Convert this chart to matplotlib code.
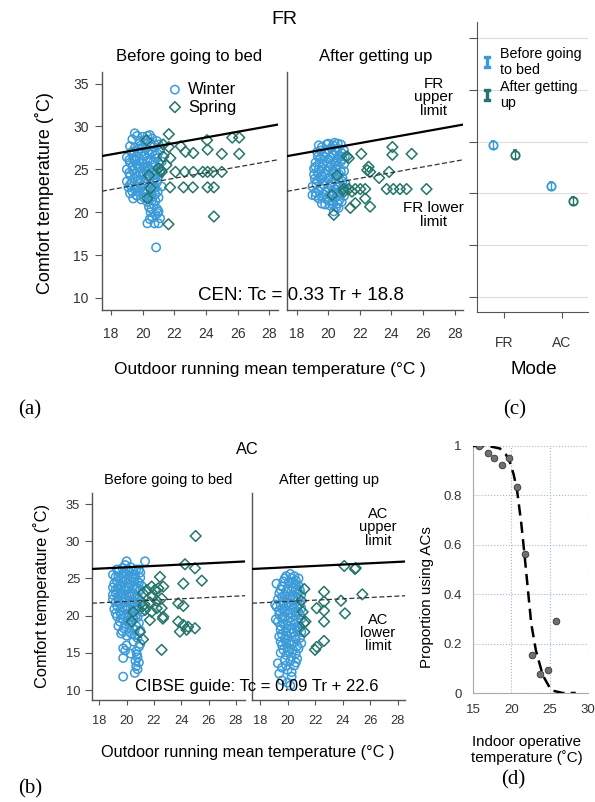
import numpy as np
import matplotlib
matplotlib.use("Agg")
import matplotlib.pyplot as plt

plt.rcParams['font.family'] = ['Liberation Sans', 'DejaVu Sans']

# ---- data ----
# (a) FR, before going to bed
winterFrBedX = [19.5, 20.0, 20.3, 20.6, 20.9, 19.8, 20.5, 21.0, 19.2, 19.5, 19.9, 20.2, 20.7, 21.1, 19.3, 19.7, 20.0,
                20.4, 20.8, 19.0, 19.4, 19.8, 20.1, 20.5, 20.9, 21.2, 19.2, 19.6, 20.0, 20.3, 20.7, 21.0, 19.0, 19.4,
                19.8, 20.2, 20.6, 21.1, 19.2, 19.6, 20.0, 20.4, 20.8, 19.0, 19.3, 19.7, 20.1, 20.5, 20.9, 21.2, 19.1,
                19.5, 19.9, 20.3, 20.7, 19.2, 19.6, 20.0, 20.4, 20.8, 19.4, 19.9, 20.3, 20.6, 21.0, 20.4, 20.7, 20.9,
                20.5, 20.8, 21.0, 20.6, 20.3, 20.75, 21.0, 20.85,
                19.35, 19.65, 20.15, 20.45, 20.75, 19.45, 19.75, 20.05, 20.35, 20.6, 20.95, 19.15, 19.55, 19.95, 20.3,
                20.65, 21.05, 19.35, 19.7, 20.1, 20.45, 20.85, 19.15, 19.5, 19.85, 20.25, 20.65, 21.0, 19.45, 19.85,
                20.25, 20.7, 19.2, 19.6, 20.0, 20.4, 20.8, 19.35, 19.75, 20.15, 20.55, 20.95, 19.65, 20.1, 20.5, 20.8,
                20.55, 20.95, 20.45, 21.1]
winterFrBedY = [29.2, 28.8, 28.9, 28.6, 28.3, 28.3, 28.0, 27.9, 27.7, 27.5, 27.8, 27.4, 27.6, 27.2, 27.0, 26.9, 27.1,
                26.8, 26.7, 26.4, 26.3, 26.2, 26.5, 26.1, 26.3, 25.9, 25.8, 25.6, 25.7, 25.4, 25.5, 25.2, 25.0, 24.9,
                25.1, 24.8, 24.7, 24.6, 24.3, 24.2, 24.4, 24.1, 24.0, 23.6, 23.4, 23.7, 23.5, 23.3, 23.5, 23.0, 22.9,
                22.7, 22.9, 22.6, 22.8, 22.2, 22.0, 22.3, 21.9, 22.1, 21.6, 21.5, 21.2, 21.4, 21.7, 20.6, 20.9, 20.4,
                20.0, 19.7, 20.1, 19.4, 18.7, 18.7, 18.7, 15.9,
                28.5, 28.9, 28.4, 29.0, 27.9, 27.1, 27.4, 27.7, 27.2, 27.0, 26.8, 26.1, 26.0, 25.9, 26.0,
                25.8, 25.6, 25.4, 25.3, 25.2, 25.0, 24.9, 24.6, 24.5, 24.6, 24.5, 24.3, 24.2, 23.9, 23.8,
                23.9, 23.8, 23.2, 23.0, 23.1, 23.0, 22.9, 22.4, 22.5, 22.5, 22.2, 22.4, 21.9, 21.7, 21.6, 21.3,
                20.4, 19.9, 19.2, 19.3]
springFrBedX = [21.65, 20.25, 22.4, 22.7, 23.2, 24.07, 24.1, 25.0, 25.66, 26.1, 26.1, 21.65, 21.75, 21.3, 21.16, 21.2,
                21.0, 22.07, 22.65, 23.2, 23.8, 24.1, 24.45, 25.0, 21.73, 22.58, 23.17, 24.1, 24.5, 24.5, 21.63, 20.4,
                20.3, 20.5, 21.5, 21.3]
springFrBedY = [29.1, 28.4, 27.7, 27.05, 26.9, 28.4, 27.3, 26.8, 28.7, 28.7, 26.8, 27.6, 26.3, 26.5, 24.9, 24.7,
                25.1, 24.7, 24.7, 24.7, 24.7, 24.7, 24.7, 24.7, 22.9, 22.9, 22.9, 22.9, 22.9, 19.5, 18.6, 24.3,
                21.6, 22.8, 25.5, 27.9]

# (a) FR, after getting up
winterFrUpX = [20.0, 20.4, 20.8, 19.6, 20.2, 20.6, 21.0, 19.3, 19.8, 20.3, 20.7, 19.5, 20.0, 20.5, 20.9, 19.2, 19.7,
               20.2, 20.6, 21.0, 19.4, 19.9, 20.3, 20.8, 19.1, 19.6, 20.1, 20.5, 20.9, 19.3, 19.8, 20.2, 20.7, 21.1,
               19.0, 19.5, 20.0, 20.4, 20.8, 19.2, 19.7, 20.1, 20.6, 21.0, 19.4, 19.9, 20.3, 20.7, 19.6, 20.1, 20.5,
               20.35, 20.65, 19.2, 19.0,
               19.4, 19.9, 20.3, 20.6, 19.55, 20.0, 20.45, 20.85, 19.35, 19.75, 20.15, 20.6, 21.05, 19.45, 19.95, 20.4,
               20.8, 19.1, 19.6, 20.05, 20.5, 21.0, 19.35, 19.8, 20.25, 20.7, 19.15, 19.55, 20.0, 20.45, 20.9, 19.25,
               19.7, 20.15, 20.6, 21.0, 19.4, 19.85, 20.3, 20.75, 19.2, 19.6, 20.05, 20.5, 20.85, 19.8, 20.3, 20.6]
winterFrUpY = [28.0, 28.1, 27.9, 27.6, 27.5, 27.4, 27.2, 27.0, 26.9, 26.8, 26.6, 26.3, 26.2, 26.0, 26.2, 25.8, 25.6,
               25.5, 25.4, 25.6, 25.0, 24.9, 24.8, 24.7, 24.4, 24.3, 24.1, 24.2, 24.0, 23.7, 23.6, 23.4, 23.5, 23.3,
               23.0, 22.9, 22.8, 22.7, 22.6, 22.3, 22.1, 22.0, 22.2, 21.9, 21.6, 21.5, 21.3, 21.4, 21.0, 20.8, 20.6,
               20.1, 20.5, 25.3, 22.0,
               27.8, 27.9, 27.8, 28.0, 27.2, 27.3, 27.1, 26.9, 26.5, 26.5, 26.4, 26.3, 26.5, 25.8, 25.8, 25.7,
               25.9, 25.1, 25.2, 25.2, 25.0, 24.8, 24.6, 24.5, 24.5, 24.4, 23.9, 23.9, 23.9, 23.8, 23.6, 23.3,
               23.2, 23.1, 23.0, 22.9, 22.5, 22.4, 22.4, 22.3, 21.9, 21.8, 21.3, 21.8, 21.2, 20.9, 20.9, 21.0]
springFrUpX = [21.19, 22.09, 24.06, 24.06, 25.28, 22.55, 22.65, 23.85, 23.22, 20.56, 20.98, 21.29, 21.71, 22.03, 22.34,
               23.7, 24.12, 24.54, 24.96, 26.22, 20.25, 22.34, 21.71, 21.4, 22.65, 20.35, 22.47, 21.3, 21.5, 21.0]
springFrUpY = [26.5, 26.8, 27.6, 26.7, 26.8, 25.3, 24.7, 24.7, 24.0, 24.3, 22.7, 22.7, 22.7, 22.7, 22.7,
               22.7, 22.7, 22.7, 22.7, 22.7, 22.0, 21.6, 21.05, 20.5, 20.65, 19.7, 24.9, 26.3, 22.4, 22.4]

# (b) AC, before going to bed
winterAcBedX = [20.0, 21.35, 19.9, 20.3, 20.7, 19.4, 19.8, 20.2, 20.6, 21.0, 19.2, 19.6, 20.0, 20.4, 20.8, 19.1, 19.5,
                19.9, 20.3, 20.7, 21.1, 19.2, 19.6, 20.0, 20.4, 20.9, 19.0, 19.4, 19.8, 20.2, 20.6, 21.0, 19.2, 19.6,
                20.0, 20.4, 20.8, 19.1, 19.5, 19.9, 20.3, 20.7, 21.1, 19.3, 19.7, 20.1, 20.5, 20.9, 19.4, 19.8, 20.2,
                20.6, 19.6, 20.0, 20.4, 20.8, 21.0, 19.75, 19.9, 20.3, 19.75, 20.7, 20.8, 20.9, 20.7, 20.8, 20.6, 19.75,
                20.5, 20.0,
                19.3, 19.7, 20.1, 20.5, 20.9, 19.0, 19.4, 19.8, 20.2, 20.6, 21.0, 19.3, 19.7, 20.1, 20.5, 20.9, 19.0,
                19.4, 19.8, 20.2, 20.6, 21.0, 19.2, 19.6, 20.0, 20.4, 20.8, 19.0, 19.4, 19.8, 20.2, 20.6, 21.0, 19.3,
                19.7, 20.1, 20.5, 20.9, 19.2, 19.6, 20.0, 20.4, 20.8, 19.5, 19.9, 20.3, 20.7, 21.0, 19.7, 20.2, 20.6,
                20.9, 20.75, 20.65]
winterAcBedY = [27.3, 27.3, 26.8, 26.5, 26.2, 25.9, 25.7, 25.9, 25.5, 25.8, 25.2, 25.0, 24.8, 25.1, 24.6, 24.3, 24.1,
                23.9, 24.2, 23.8, 24.0, 23.5, 23.2, 23.4, 23.0, 23.3, 22.8, 22.5, 22.2, 22.6, 22.3, 22.0, 21.8, 21.5,
                21.3, 21.7, 21.2, 20.9, 20.6, 20.8, 20.4, 20.1, 20.5, 19.9, 19.6, 19.3, 19.7, 19.0, 18.6, 18.3, 18.7,
                18.1, 17.6, 17.3, 17.5, 17.0, 16.2, 15.6, 15.3, 14.9, 14.3, 15.2, 14.4, 13.7, 13.2, 12.8, 12.3, 11.8,
                16.5, 16.0,
                26.2, 26.4, 26.2, 26.0, 26.2, 25.5, 25.3, 25.2, 25.4, 25.0, 25.1, 24.6, 24.5, 24.4, 24.6, 24.4, 23.8,
                23.7, 23.5, 23.8, 23.6, 23.5, 23.0, 22.8, 22.7, 22.8, 22.6, 22.2, 22.0, 21.8, 22.0, 21.8, 21.6, 21.3,
                21.1, 20.9, 21.1, 20.8, 20.3, 20.1, 20.2, 19.9, 19.8, 19.2, 18.9, 19.0, 18.6, 18.0, 17.9, 17.8, 17.4,
                15.8, 14.8, 13.9]
springAcBedX = [25.05, 24.27, 25.0, 25.5, 24.15, 22.44, 21.47, 21.83, 22.07, 22.32, 22.68, 22.56, 22.2, 21.7, 21.22,
                21.3, 21.34, 21.83, 22.2, 22.56, 22.68, 22.65, 21.7, 20.49, 20.37, 20.98, 21.2, 22.56, 23.78, 24.15,
                23.78, 24.15, 24.5, 25.0, 23.9, 24.39, 21.2, 21.9]
springAcBedY = [30.7, 26.9, 26.36, 24.7, 24.3, 25.2, 23.44, 23.9, 23.44, 23.67, 23.9, 22.3, 22.0, 21.8, 21.3,
                21.5, 20.75, 20.5, 21.0, 21.0, 19.85, 19.6, 19.4, 20.5, 19.2, 17.8, 16.8, 15.4, 21.65, 21.3,
                19.2, 18.75, 18.5, 18.3, 17.85, 18.1, 23.0, 22.6]

# (b) AC, after getting up
winterAcUpX = [20.2, 20.5, 19.8, 20.8, 19.2, 20.1, 20.6, 19.6, 20.0, 20.4, 20.9, 19.4, 19.8, 20.2, 20.7, 19.3, 19.7,
               20.1, 20.5, 20.9, 19.2, 19.6, 20.0, 20.4, 20.8, 19.4, 19.8, 20.2, 20.6, 21.0, 19.3, 19.7, 20.1, 20.5,
               20.9, 19.5, 19.9, 20.3, 20.7, 19.4, 19.8, 20.2, 20.6, 21.0, 19.6, 20.0, 20.4, 20.8, 19.5, 19.9, 20.3,
               20.7, 19.3, 19.6, 20.0, 20.5, 19.4, 19.6, 20.0, 20.2, 20.3, 19.1, 19.15,
               19.9, 20.3, 20.6, 19.7, 20.4, 20.8, 19.5, 19.9, 20.3, 20.7, 21.0, 19.6, 20.0, 20.4, 20.8, 19.5, 19.9,
               20.3, 20.7, 21.0, 19.4, 19.8, 20.2, 20.6, 20.9, 19.6, 20.0, 20.4, 20.8, 19.5, 19.9, 20.3, 20.7, 21.0,
               19.6, 20.0, 20.5, 20.9, 19.5, 19.9, 20.3, 20.7, 19.7, 20.1, 20.6, 19.8, 20.2, 20.6, 19.9, 20.3]
winterAcUpY = [25.6, 25.3, 25.0, 25.0, 24.3, 24.5, 24.2, 23.9, 23.6, 23.8, 23.4, 23.0, 22.8, 22.6, 22.9, 22.2, 21.9,
               21.7, 22.0, 21.6, 21.2, 20.9, 20.7, 21.0, 20.5, 20.2, 19.9, 19.7, 20.0, 19.6, 19.2, 18.9, 18.6, 18.9,
               18.4, 18.1, 17.8, 17.6, 17.9, 17.2, 16.9, 16.6, 16.8, 16.3, 16.0, 15.7, 15.4, 15.6, 15.0, 14.7, 14.5,
               14.2, 13.6, 13.0, 12.7, 13.3, 12.2, 11.3, 11.0, 10.6, 11.8, 21.5, 19.5,
               25.3, 25.0, 24.7, 24.6, 24.4, 24.0, 23.5, 23.2, 23.3, 23.5, 22.8, 22.5, 22.2, 22.4, 22.2, 21.5, 21.3,
               21.4, 21.3, 21.0, 20.7, 20.5, 20.3, 20.6, 20.1, 19.6, 19.3, 19.4, 19.1, 18.6, 18.3, 18.2, 18.5, 17.8,
               17.5, 17.3, 17.2, 17.0, 16.5, 16.3, 16.1, 15.9, 15.4, 15.2, 14.9, 14.0, 13.9, 13.7, 13.3, 12.4]
springAcUpX = [24.12, 24.9, 24.95, 21.22, 22.65, 25.43, 23.88, 22.65, 22.12, 22.65, 24.17, 21.3, 21.2, 22.65, 21.22,
               22.12, 22.65, 22.0, 21.0, 21.1]
springAcUpY = [26.67, 26.26, 26.4, 23.57, 23.2, 22.86, 22.0, 21.87, 21.0, 20.66, 20.3, 19.2, 19.0, 19.2, 17.8,
               15.8, 16.6, 15.4, 22.0, 20.5]

# comfort zone lines: slope, upper intercept, lower intercept
frSlope, frUpper, frLower = 0.33, 20.8, 16.7
acSlope, acUpper, acLower = 0.09, 24.7, 20.1

# (c) mean comfort temperature by mode
modeNames = ['FR', 'AC']
meanBed = [23.93, 23.15]
meanUp = [23.75, 22.85]
errBed = [0.08, 0.08]
errUp = [0.08, 0.08]

# (d) proportion using ACs
indoorTemp = [15.8, 16.9, 17.8, 18.8, 19.7, 20.8, 21.75, 22.75, 23.8, 24.76, 25.84]
propAC = [1.0, 0.973, 0.951, 0.925, 0.951, 0.832, 0.561, 0.153, 0.075, 0.092, 0.29]
fitTemp = [15, 17, 18.5, 19.3, 19.8, 20.3, 20.75, 21.3, 21.75, 22.17, 22.6, 23.2, 24.1, 25.2, 26.7, 28.4]
fitProp = [1.0, 1.0, 0.99, 0.965, 0.935, 0.885, 0.82, 0.686, 0.55, 0.416, 0.28, 0.173, 0.072, 0.011, 0.0, 0.0]

blue = '#3b9ad8'
teal = '#24756a'
dark = '#333333'

W, H = 595, 802
fig = plt.figure(figsize=(W / 100, H / 100), dpi=100)


def pxBox(x0, y0, x1, y1):
    # pixel box (from top left) -> figure fraction
    return [x0 / W, 1 - y1 / H, (x1 - x0) / W, (y1 - y0) / H]


def figText(x, y, s, **kw):
    kw.setdefault('ha', 'center')
    kw.setdefault('va', 'center')
    fig.text(x / W, 1 - y / H, s, **kw)


def scatterPanel(box, wx, wy, sx, sy, slope, up, low, xlim, ylim, showY, tickSize, xpad, ypad):
    ax = fig.add_axes(pxBox(*box))
    ax.scatter(wx, wy, s=36, facecolors='none', edgecolors=blue, linewidths=1.1, zorder=2, label='Winter')
    ax.scatter(sx, sy, s=30, marker='D', facecolors='none', edgecolors=teal, linewidths=1.1, zorder=3,
               label='Spring')
    xs = np.array(xlim)
    ax.plot(xs, slope * xs + up, color='black', lw=1.6, zorder=4)
    ax.plot(xs, slope * xs + low, color='#333333', lw=0.9, ls=(0, (4, 2)), zorder=4)
    ax.set_xlim(*xlim)
    ax.set_ylim(*ylim)
    for s in ['top', 'right']:
        ax.spines[s].set_visible(False)
    for s in ['left', 'bottom']:
        ax.spines[s].set_color('#555555')
        ax.spines[s].set_linewidth(1.0)
    ax.set_xticks([18, 20, 22, 24, 26, 28])
    ax.tick_params(axis='x', length=3.5, width=0.8, color='#555555', labelsize=tickSize, labelcolor=dark, pad=xpad)
    if showY:
        ax.set_yticks([10, 15, 20, 25, 30, 35])
        ax.tick_params(axis='y', length=5, width=0.8, color='#555555', labelsize=tickSize, labelcolor=dark, pad=ypad)
    else:
        ax.set_yticks([])
    return ax


# ---- (a) FR ----
a1 = scatterPanel((102, 72, 278, 310), winterFrBedX, winterFrBedY, springFrBedX, springFrBedY,
                  frSlope, frUpper, frLower, (17.43, 28.55), (8.6, 36.35), True, 10, 9, 4.5)
a2 = scatterPanel((287, 72, 463, 310), winterFrUpX, winterFrUpY, springFrUpX, springFrUpY,
                  frSlope, frUpper, frLower, (17.39, 28.53), (8.6, 36.35), False, 10, 9, 4.5)
a1.legend(loc='upper left', bbox_to_anchor=(0.31, 1.0), frameon=False, fontsize=12, handletextpad=0.3,
          labelspacing=0.15, borderpad=0.1, handlelength=1.0)
a2.text(26.67, 33.4, 'FR\nupper\nlimit', ha='center', va='center', fontsize=11, linespacing=0.95)
a2.text(26.67, 19.7, 'FR lower\nlimit', ha='center', va='center', fontsize=11, linespacing=0.95)

figText(284, 20, 'FR', fontsize=14)
figText(189, 57, 'Before going to bed', fontsize=12)
figText(376, 57, 'After getting up', fontsize=12)
figText(45, 193, 'Comfort temperature (˚C)', fontsize=13, rotation=90)
figText(270, 369, 'Outdoor running mean temperature (°C )', fontsize=12.4)
figText(301, 296, 'CEN: Tc = 0.33 Tr + 18.8', fontsize=13.5)

# ---- (c) mode ----
c = fig.add_axes(pxBox(477, 22, 588, 312))
pos = np.arange(1, len(modeNames) + 1)
c.errorbar(pos - 0.19, meanBed, yerr=errBed, fmt='o', ms=6, mfc='none', mec=blue, mew=1.3, ecolor=blue,
           elinewidth=1.0, capsize=1.5)
c.errorbar(pos + 0.19, meanUp, yerr=errUp, fmt='o', ms=6, mfc='none', mec=teal, mew=1.3, ecolor=teal,
           elinewidth=1.0, capsize=1.5)
c.set_xlim(0.534, 2.45)
c.set_ylim(20.71, 26.31)
c.set_xticks(pos)
c.set_xticklabels(modeNames)
c.set_yticks([21, 22, 23, 24, 25, 26])
c.set_yticklabels([])
c.grid(axis='y', color='#dddddd', lw=0.8)
c.set_axisbelow(True)
for s in ['top', 'right']:
    c.spines[s].set_visible(False)
for s in ['left', 'bottom']:
    c.spines[s].set_color('#555555')
c.tick_params(axis='y', length=6, width=0.8, color='#555555')
c.tick_params(axis='x', length=4, width=0.8, color='#555555', labelsize=10, labelcolor=dark, pad=13)
# legend icons: "I" shaped error bars (monospace I has the caps)
iconBed = plt.Line2D([], [], ls='none', marker='$\\mathtt{I}$', ms=8, color=blue)
iconUp = plt.Line2D([], [], ls='none', marker='$\\mathtt{I}$', ms=8, color=teal)
c.legend([iconBed, iconUp], ['Before going\nto bed', 'After getting\nup'], loc='upper left',
         bbox_to_anchor=(0.0, 0.93), frameon=False, fontsize=10.3, handlelength=0.8, handletextpad=0.5,
         labelspacing=0.2, borderpad=0.1, borderaxespad=0.2)
figText(534, 369, 'Mode', fontsize=13.5)

# ---- (b) AC ----
b1 = scatterPanel((92, 493, 245, 700), winterAcBedX, winterAcBedY, springAcBedX, springAcBedY,
                  acSlope, acUpper, acLower, (17.47, 28.66), (8.66, 36.48), True, 9.3, 7, 3.5)
b2 = scatterPanel((252, 493, 405, 700), winterAcUpX, winterAcUpY, springAcUpX, springAcUpY,
                  acSlope, acUpper, acLower, (17.42, 28.53), (8.66, 36.48), False, 9.3, 7, 3.5)
b2.text(26.57, 31.9, 'AC\nupper\nlimit', ha='center', va='center', fontsize=10.5, linespacing=0.95)
b2.text(26.57, 17.66, 'AC\nlower\nlimit', ha='center', va='center', fontsize=10.5, linespacing=0.95)

figText(247, 449, 'AC', fontsize=11.8)
figText(168, 480, 'Before going to bed', fontsize=10.5)
figText(329, 480, 'After getting up', fontsize=10.5)
figText(42, 596, 'Comfort temperature (˚C)', fontsize=11.8, rotation=90)
figText(248, 752, 'Outdoor running mean temperature (°C )', fontsize=11.7)
figText(257, 687, 'CIBSE guide: Tc = 0.09 Tr + 22.6', fontsize=12)

# ---- (d) proportion ----
d = fig.add_axes(pxBox(473, 446, 588, 693))
d.plot(fitTemp, fitProp, color='black', lw=1.8, ls=(0, (4.5, 2.5)), zorder=3)
d.plot(indoorTemp, propAC, 'o', ms=4.8, mfc='#707070', mec='#333333', mew=0.6, zorder=4)
d.set_xlim(15, 30)
d.set_ylim(0, 1)
d.set_xticks([15, 20, 25, 30])
d.set_yticks([0, 0.2, 0.4, 0.6, 0.8, 1.0])
d.set_yticklabels(['0', '0.2', '0.4', '0.6', '0.8', '1'])
d.grid(color='#9db6e3', ls=':', lw=0.8)
d.set_axisbelow(True)
for s in ['top', 'right']:
    d.spines[s].set_visible(False)
for s in ['left', 'bottom']:
    d.spines[s].set_color('#aaaaaa')
d.tick_params(length=0, labelsize=9.5, labelcolor=dark, pad=8)
figText(427, 597, 'Proportion using ACs', fontsize=10.9, rotation=90)
figText(527, 750, 'Indoor operative\ntemperature (˚C)', fontsize=10.9, linespacing=1.15)

# panel letters
serif = ['Liberation Serif', 'DejaVu Serif']
figText(30, 410, '(a)', fontsize=15, family=serif)
figText(515, 410, '(c)', fontsize=15, family=serif)
figText(30, 789, '(b)', fontsize=15, family=serif)
figText(513, 780, '(d)', fontsize=15, family=serif)

fig.savefig('out.png', dpi=100)
